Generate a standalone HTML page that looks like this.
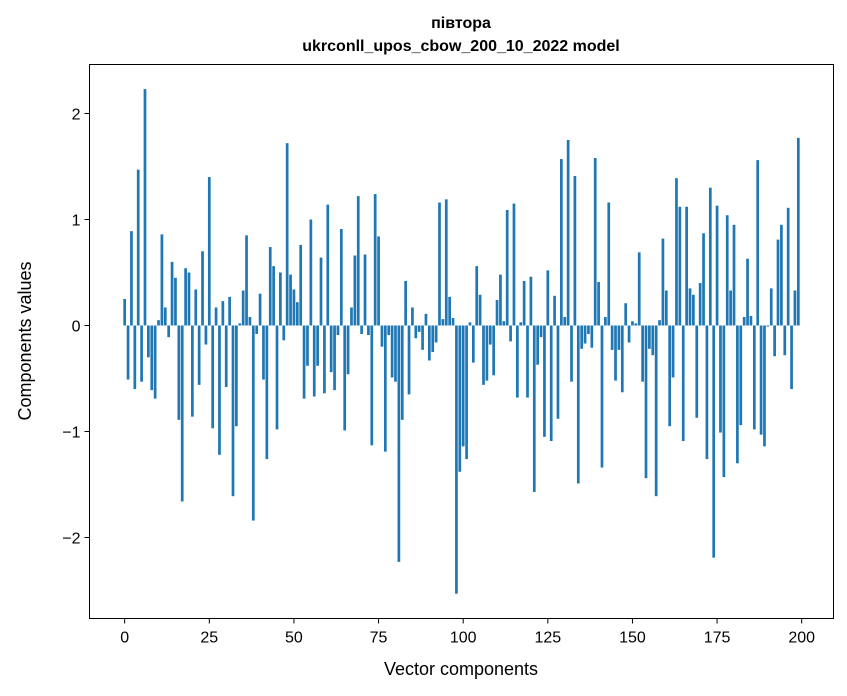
<!DOCTYPE html>
<html><head><meta charset="utf-8"><style>
body{margin:0;background:#fff}
svg{display:block;font-family:"Liberation Sans","DejaVu Sans",sans-serif}
</style></head><body>
<svg id="chart" width="847" height="696" xmlns="http://www.w3.org/2000/svg">
<rect width="847" height="696" fill="#fff"/>
<text x="461" y="28" text-anchor="middle" font-weight="bold" font-size="16">півтора</text>
<text x="461" y="51" text-anchor="middle" font-weight="bold" font-size="16">ukrconll_upos_cbow_200_10_2022 model</text>
<g id="bars"></g>
<rect x="89.5" y="64.5" width="744" height="554" fill="none" stroke="#000" stroke-width="1"/>
<g id="xticks"></g>
<g id="yticks"></g>
<text x="461" y="675" text-anchor="middle" font-size="18">Vector components</text>
<text transform="translate(31,341) rotate(-90)" text-anchor="middle" font-size="18">Components values</text>
</svg>
<script>
const values = [0.25,-0.51,0.89,-0.60,1.47,-0.53,2.23,-0.30,-0.61,-0.69,0.05,0.86,0.17,-0.11,0.60,0.45,-0.89,-1.66,0.54,0.50,
-0.86,0.34,-0.56,0.70,-0.18,1.40,-0.97,0.17,-1.22,0.23,-0.58,0.27,-1.61,-0.95,0.02,0.33,0.85,0.08,-1.84,-0.08,
0.30,-0.51,-1.26,0.74,0.56,-0.98,0.50,-0.14,1.72,0.48,0.34,0.22,0.76,-0.69,-0.38,1.00,-0.67,-0.38,0.64,-0.64,
1.14,-0.44,-0.61,-0.09,0.91,-0.99,-0.46,0.17,0.66,1.22,-0.08,0.67,-0.09,-1.13,1.24,0.84,-0.20,-1.19,-0.09,-0.49,
-0.53,-2.23,-0.89,0.42,-0.65,0.17,-0.12,-0.06,-0.23,0.11,-0.33,-0.25,-0.16,1.16,0.06,1.19,0.27,0.07,-2.53,-1.38,
-1.14,-1.26,0.03,-0.35,0.56,0.29,-0.56,-0.52,-0.18,-0.47,0.24,0.48,0.04,1.09,-0.15,1.15,-0.68,0.03,0.42,-0.68,
0.46,-1.57,-0.37,-0.11,-1.05,0.52,-1.09,0.28,-0.88,1.57,0.08,1.75,-0.53,1.41,-1.49,-0.22,-0.17,-0.08,-0.21,1.58,
0.41,-1.34,0.08,1.16,-0.23,-0.52,-0.23,-0.63,0.21,-0.16,0.04,0.02,0.69,-0.53,-1.44,-0.22,-0.28,-1.61,0.05,0.82,
0.33,-0.95,-0.49,1.39,1.12,-1.09,1.12,0.35,0.29,-0.87,0.40,0.87,-1.26,1.30,-2.19,1.13,-1.01,-1.43,1.04,0.33,
0.95,-1.30,-0.94,0.08,0.63,0.09,-0.98,1.56,-1.03,-1.14,-0.01,0.35,-0.29,0.81,0.95,-0.28,1.11,-0.60,0.33,1.77];
const xTicks = [0,25,50,75,100,125,150,175,200];
const yTicks = [-2,-1,0,1,2];
const yTickLabels = ["\u22122","\u22121","0","1","2"];

const NS="http://www.w3.org/2000/svg";
const L=89.5,R=833.5,T=64.5,B=618.5;
const xMin=-10.39,xMax=209.39,yMin=-2.764,yMax=2.462;
const sx=v=>L+(v-xMin)/(xMax-xMin)*(R-L);
const sy=v=>T+(yMax-v)/(yMax-yMin)*(B-T);
const bars=document.getElementById('bars');
values.forEach((v,i)=>{
  const r=document.createElementNS(NS,'rect');
  const x0=sx(i-0.4),x1=sx(i+0.4);
  const y0=sy(Math.max(v,0)),y1=sy(Math.min(v,0));
  r.setAttribute('x',x0);r.setAttribute('width',x1-x0);
  r.setAttribute('y',y0);r.setAttribute('height',Math.max(y1-y0,0.3));
  r.setAttribute('fill','#1f77b4');
  
  
  bars.appendChild(r);
});
const xg=document.getElementById('xticks');
xTicks.forEach(t=>{
  const x=sx(t);
  const l=document.createElementNS(NS,'line');
  l.setAttribute('x1',x);l.setAttribute('x2',x);l.setAttribute('y1',B);l.setAttribute('y2',B+5);l.setAttribute('stroke','#000');
  
  
  xg.appendChild(l);
  const tx=document.createElementNS(NS,'text');
  tx.setAttribute('x',x);tx.setAttribute('y',B+24);tx.setAttribute('text-anchor','middle');tx.setAttribute('font-size','16');
  tx.textContent=t;
  
  
  xg.appendChild(tx);
});
const yg=document.getElementById('yticks');
yTicks.forEach((t,i)=>{
  const y=sy(t);
  const l=document.createElementNS(NS,'line');
  l.setAttribute('x1',L-5);l.setAttribute('x2',L);l.setAttribute('y1',y);l.setAttribute('y2',y);l.setAttribute('stroke','#000');
  
  
  yg.appendChild(l);
  const tx=document.createElementNS(NS,'text');
  tx.setAttribute('x',L-9);tx.setAttribute('y',y+6);tx.setAttribute('text-anchor','end');tx.setAttribute('font-size','16');
  tx.textContent=yTickLabels[i];
  
  
  yg.appendChild(tx);
});
</script>
</body></html>
